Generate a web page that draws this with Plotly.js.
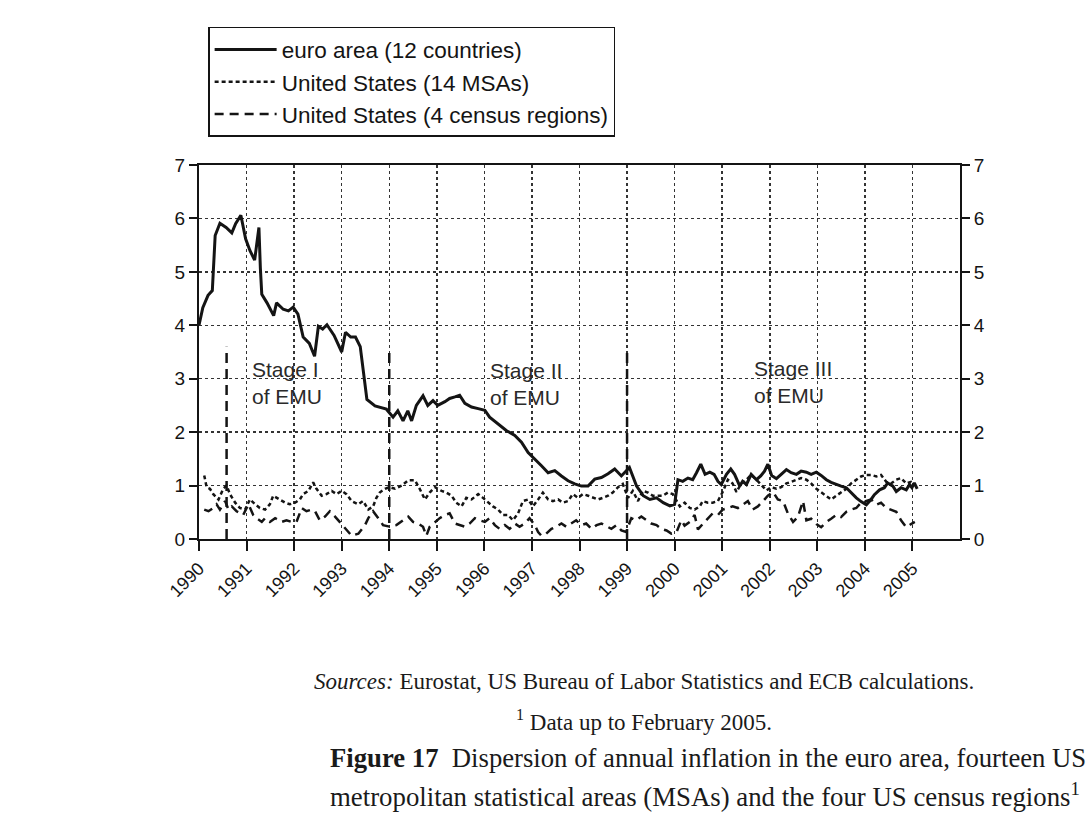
<!DOCTYPE html>
<html>
<head>
<meta charset="utf-8">
<script src="https://cdn.plot.ly/plotly-3.0.1.min.js"></script>
<style>
  html, body { margin: 0; padding: 0; background: #ffffff; }
  #chart { width: 1090px; height: 820px; }
</style>
</head>
<body>
<div id="chart"></div>
<script>
// ---------- data ----------
var seriesNames = ["euro area (12 countries)", "United States (14 MSAs)", "United States (4 census regions)"];

var euroX = [1990.00,1990.08,1990.19,1990.28,1990.34,1990.44,1990.57,1990.69,1990.77,1990.88,1990.98,1991.07,1991.17,1991.26,1991.29,1991.32,1991.43,1991.57,1991.63,1991.77,1991.88,1991.98,1992.08,1992.19,1992.32,1992.43,1992.51,1992.60,1992.69,1992.84,1993.00,1993.08,1993.19,1993.29,1993.39,1993.46,1993.53,1993.70,1993.94,1994.08,1994.18,1994.29,1994.39,1994.47,1994.57,1994.71,1994.81,1994.92,1995.02,1995.17,1995.27,1995.38,1995.48,1995.59,1995.73,1995.87,1996.01,1996.11,1996.29,1996.46,1996.64,1996.78,1996.92,1997.06,1997.20,1997.34,1997.48,1997.62,1997.76,1997.90,1998.04,1998.18,1998.32,1998.46,1998.60,1998.74,1998.88,1999.05,1999.20,1999.34,1999.48,1999.62,1999.76,1999.90,2000.00,2000.07,2000.17,2000.28,2000.38,2000.46,2000.55,2000.64,2000.74,2000.83,2000.91,2000.98,2001.09,2001.18,2001.26,2001.37,2001.43,2001.51,2001.61,2001.72,2001.81,2001.89,2001.96,2002.04,2002.14,2002.24,2002.35,2002.45,2002.56,2002.66,2002.77,2002.87,2002.98,2003.08,2003.19,2003.29,2003.40,2003.50,2003.61,2003.71,2003.82,2003.92,2004.03,2004.13,2004.20,2004.31,2004.41,2004.48,2004.59,2004.66,2004.76,2004.87,2004.94,2004.99,2005.04,2005.10];
var euroY = [4.00,4.33,4.56,4.65,5.68,5.91,5.83,5.73,5.90,6.06,5.62,5.40,5.22,5.83,5.07,4.58,4.42,4.18,4.42,4.30,4.27,4.34,4.21,3.78,3.66,3.42,3.98,3.93,4.01,3.81,3.50,3.87,3.78,3.78,3.60,3.10,2.61,2.49,2.43,2.28,2.40,2.21,2.40,2.21,2.50,2.68,2.50,2.59,2.50,2.57,2.63,2.66,2.69,2.54,2.47,2.44,2.41,2.28,2.16,2.03,1.94,1.81,1.62,1.50,1.37,1.24,1.28,1.18,1.09,1.03,0.99,0.99,1.12,1.15,1.22,1.31,1.18,1.34,0.99,0.81,0.74,0.77,0.68,0.62,0.65,1.11,1.08,1.14,1.11,1.24,1.40,1.21,1.25,1.21,1.08,1.02,1.21,1.31,1.21,0.99,1.08,1.02,1.21,1.11,1.18,1.27,1.40,1.19,1.13,1.21,1.30,1.24,1.21,1.27,1.25,1.21,1.25,1.19,1.11,1.06,1.02,0.99,0.96,0.86,0.77,0.70,0.64,0.74,0.83,0.92,0.96,1.05,0.99,0.89,0.96,0.92,1.02,0.96,1.05,0.94];

var msaX = [1990.11,1990.16,1990.23,1990.30,1990.41,1990.51,1990.58,1990.65,1990.76,1990.86,1990.97,1991.07,1991.18,1991.28,1991.39,1991.49,1991.56,1991.70,1991.81,1991.91,1992.02,1992.12,1992.19,1992.30,1992.40,1992.47,1992.58,1992.68,1992.79,1992.89,1993.00,1993.10,1993.21,1993.35,1993.45,1993.56,1993.66,1993.73,1993.80,1993.91,1994.01,1994.12,1994.26,1994.40,1994.54,1994.64,1994.75,1994.85,1994.96,1995.10,1995.20,1995.31,1995.41,1995.52,1995.62,1995.73,1995.87,1995.97,1996.08,1996.18,1996.29,1996.39,1996.50,1996.60,1996.71,1996.81,1996.92,1997.02,1997.13,1997.23,1997.34,1997.44,1997.55,1997.65,1997.76,1997.86,1997.97,1998.07,1998.18,1998.28,1998.39,1998.49,1998.60,1998.70,1998.81,1998.91,1999.02,1999.12,1999.23,1999.33,1999.44,1999.54,1999.65,1999.75,1999.86,1999.96,2000.11,2000.21,2000.32,2000.42,2000.53,2000.59,2000.70,2000.80,2000.91,2001.01,2001.12,2001.22,2001.30,2001.40,2001.51,2001.61,2001.72,2001.82,2001.93,2002.03,2002.14,2002.24,2002.35,2002.45,2002.56,2002.66,2002.77,2002.87,2002.98,2003.08,2003.19,2003.29,2003.40,2003.50,2003.61,2003.71,2003.82,2003.92,2004.03,2004.13,2004.24,2004.34,2004.45,2004.55,2004.66,2004.76,2004.87,2004.97,2005.05];
var msaY = [1.19,0.97,0.94,0.84,0.74,0.94,1.00,0.84,0.68,0.58,0.55,0.74,0.65,0.58,0.55,0.65,0.81,0.74,0.68,0.65,0.68,0.74,0.84,0.90,1.06,0.94,0.81,0.84,0.90,0.84,0.90,0.84,0.71,0.65,0.71,0.55,0.61,0.77,0.87,0.94,0.97,0.94,1.00,1.10,1.10,0.94,0.74,0.87,0.97,0.90,0.87,0.81,0.68,0.61,0.77,0.74,0.84,0.77,0.68,0.61,0.55,0.45,0.45,0.35,0.48,0.71,0.74,0.61,0.74,0.87,0.74,0.71,0.74,0.68,0.71,0.84,0.77,0.84,0.81,0.77,0.74,0.77,0.81,0.87,0.97,1.03,0.77,0.90,0.71,0.90,0.87,0.81,0.81,0.81,0.87,0.84,0.61,0.68,0.58,0.55,0.61,0.71,0.68,0.68,0.71,0.88,1.11,1.04,0.88,1.04,1.11,1.20,1.11,1.01,0.91,0.97,0.94,0.97,1.04,1.07,1.11,1.14,1.11,1.04,0.94,0.88,0.81,0.74,0.81,0.88,0.94,1.04,1.11,1.17,1.20,1.20,1.17,1.20,1.07,1.04,1.11,1.14,1.04,1.07,1.01];

var censusX = [1990.11,1990.20,1990.30,1990.37,1990.44,1990.55,1990.62,1990.69,1990.79,1990.93,1991.04,1991.14,1991.21,1991.32,1991.39,1991.49,1991.60,1991.74,1991.84,1991.95,1992.05,1992.16,1992.26,1992.37,1992.44,1992.54,1992.65,1992.75,1992.86,1992.96,1993.07,1993.21,1993.35,1993.49,1993.56,1993.66,1993.77,1993.87,1994.01,1994.15,1994.29,1994.40,1994.50,1994.61,1994.71,1994.78,1994.85,1994.96,1995.06,1995.17,1995.27,1995.38,1995.48,1995.59,1995.69,1995.80,1995.90,1996.01,1996.11,1996.22,1996.32,1996.43,1996.53,1996.64,1996.74,1996.85,1996.95,1997.06,1997.13,1997.20,1997.30,1997.41,1997.51,1997.62,1997.72,1997.83,1997.93,1998.04,1998.14,1998.25,1998.36,1998.46,1998.57,1998.67,1998.78,1998.88,1998.98,1999.09,1999.19,1999.30,1999.41,1999.51,1999.62,1999.72,1999.83,1999.93,2000.04,2000.14,2000.21,2000.32,2000.42,2000.49,2000.59,2000.70,2000.80,2000.91,2001.01,2001.12,2001.22,2001.33,2001.43,2001.54,2001.64,2001.75,2001.86,2001.96,2002.07,2002.17,2002.28,2002.38,2002.49,2002.59,2002.70,2002.77,2002.87,2002.98,2003.08,2003.19,2003.29,2003.40,2003.50,2003.61,2003.71,2003.82,2003.92,2004.03,2004.13,2004.24,2004.34,2004.45,2004.55,2004.66,2004.76,2004.87,2004.97,2005.05];
var censusY = [0.55,0.52,0.58,0.65,0.55,0.71,0.55,0.61,0.52,0.45,0.65,0.45,0.39,0.32,0.39,0.32,0.39,0.32,0.35,0.32,0.32,0.58,0.52,0.55,0.52,0.35,0.42,0.52,0.42,0.32,0.19,0.06,0.10,0.26,0.39,0.52,0.39,0.26,0.23,0.26,0.35,0.42,0.32,0.29,0.23,0.06,0.23,0.32,0.39,0.45,0.48,0.29,0.26,0.23,0.29,0.39,0.35,0.32,0.39,0.26,0.19,0.26,0.19,0.29,0.23,0.29,0.39,0.26,0.13,0.06,0.10,0.19,0.23,0.29,0.23,0.29,0.35,0.26,0.29,0.19,0.26,0.29,0.23,0.19,0.26,0.16,0.13,0.39,0.35,0.42,0.35,0.29,0.26,0.19,0.16,0.10,0.13,0.35,0.25,0.32,0.45,0.18,0.28,0.38,0.48,0.45,0.55,0.58,0.61,0.58,0.64,0.71,0.55,0.61,0.71,0.81,0.88,0.74,0.71,0.48,0.32,0.41,0.71,0.35,0.38,0.28,0.22,0.32,0.38,0.45,0.41,0.51,0.55,0.58,0.68,0.71,0.74,0.64,0.68,0.58,0.55,0.51,0.35,0.22,0.28,0.32];

var yearTicks = [1990,1991,1992,1993,1994,1995,1996,1997,1998,1999,2000,2001,2002,2003,2004,2005];
var yTicks = [0,1,2,3,4,5,6,7];

var stageStart = [1990.58, 1994.0, 1999.0];
var stageTop = [3.6, 3.55, 3.55];
var stageLabels = ["Stage I<br>of EMU", "Stage II<br>of EMU", "Stage III<br>of EMU"];
var stageLabelX = [1991.07, 1996.07, 2001.62];
var stageLabelY = [2.92, 2.9, 2.93];

var captionLines = [
  "<i>Sources:</i> Eurostat, US Bureau of Labor Statistics and ECB calculations.",
  "<sup>1</sup> Data up to February 2005.",
  "<b>Figure 17</b>  Dispersion of annual inflation in the euro area, fourteen US",
  "metropolitan statistical areas (MSAs) and the four US census regions<sup>1</sup>"
];

// ---------- chart ----------
var ink = "#141414";
var sans = "Liberation Sans, Arial, sans-serif";
var serif = "Liberation Serif, 'DejaVu Serif', serif";

var traces = [
  {x: euroX, y: euroY, name: seriesNames[0], type: "scatter", mode: "lines",
   line: {color: ink, width: 3}},
  {x: msaX, y: msaY, name: seriesNames[1], type: "scatter", mode: "lines",
   line: {color: ink, width: 2.5, dash: "4px,3px"}},
  {x: censusX, y: censusY, name: seriesNames[2], type: "scatter", mode: "lines",
   line: {color: ink, width: 2.5, dash: "9px,6px"}},
  // invisible helper so the right-hand axis is drawn
  {x: [yearTicks[0]], y: [yTicks[0]], yaxis: "y2", type: "scatter", mode: "markers",
   marker: {opacity: 0}, showlegend: false, hoverinfo: "skip"}
];

var shapes = stageStart.map(function (sx, i) {
  return {type: "line", xref: "x", yref: "y", x0: sx, x1: sx, y0: 0, y1: stageTop[i],
          line: {color: ink, width: 2.5, dash: "10px,6px"}};
});

var annotations = stageLabels.map(function (t, i) {
  return {text: t, xref: "x", yref: "y", x: stageLabelX[i], y: stageLabelY[i],
          xanchor: "left", yanchor: "middle", align: "left", showarrow: false,
          font: {family: sans, size: 21, color: "#2a2a2a"}};
});

// caption lines, placed in paper coordinates below the plot
var capY = [-0.38, -0.485, -0.585, -0.685];
var capX = [0.585, 0.585, 0.17, 0.17];
var capAnchor = ["center", "center", "left", "left"];
var capSize = [23, 23, 26.7, 26.8];
captionLines.forEach(function (t, i) {
  annotations.push({text: t, xref: "paper", yref: "paper", x: capX[i], y: capY[i],
    xanchor: capAnchor[i], yanchor: "middle", showarrow: false,
    font: {family: serif, size: capSize[i], color: "#1a1a1a"}});
});

var layout = {
  width: 1090, height: 820,
  margin: {l: 199, r: 130, t: 165, b: 281, pad: 0},
  paper_bgcolor: "#ffffff", plot_bgcolor: "#ffffff",
  font: {family: sans, color: ink},
  showlegend: true,
  legend: {x: 0.012, y: 1.369, xanchor: "left", yanchor: "top",
           bgcolor: "#ffffff", bordercolor: ink, borderwidth: 1.5,
           itemwidth: 62,
           font: {family: sans, size: 22.5, color: ink}, tracegroupgap: 0},
  xaxis: {range: [1990, 2006], tickmode: "array", tickvals: yearTicks,
          ticktext: yearTicks.map(String), tickangle: -45,
          ticks: "outside", ticklen: 10, tickwidth: 2, tickcolor: ink,
          showline: true, linecolor: ink, linewidth: 2, mirror: true,
          showgrid: true, gridcolor: "#333333", gridwidth: 1.5, griddash: "dot",
          zeroline: false, tickfont: {family: sans, size: 18, color: ink}},
  yaxis: {range: [0, 7], tickmode: "array", tickvals: yTicks,
          ticks: "outside", ticklen: 8, tickwidth: 2, tickcolor: ink,
          showline: true, linecolor: ink, linewidth: 2,
          showgrid: true, gridcolor: "#333333", gridwidth: 1.5, griddash: "dot",
          zeroline: false, tickfont: {family: sans, size: 19, color: ink}},
  yaxis2: {range: [0, 7], overlaying: "y", side: "right", tickmode: "array", tickvals: yTicks,
           ticks: "outside", ticklen: 8, tickwidth: 2, tickcolor: ink,
           showline: true, linecolor: ink, linewidth: 2, showgrid: false, zeroline: false,
           tickfont: {family: sans, size: 19, color: ink}},
  shapes: shapes,
  annotations: annotations
};

Plotly.newPlot("chart", traces, layout, {displayModeBar: false, staticPlot: true});
</script>
</body>
</html>
